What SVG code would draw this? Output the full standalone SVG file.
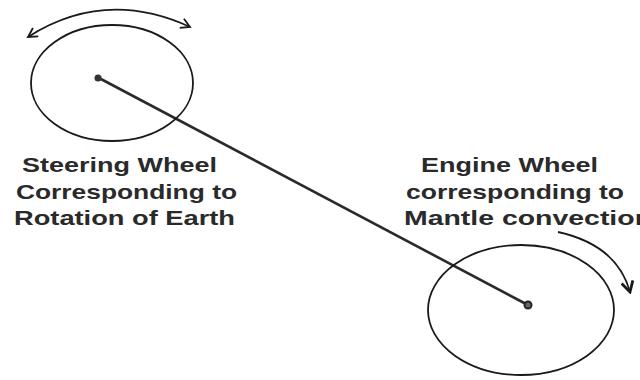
<svg xmlns="http://www.w3.org/2000/svg" width="640" height="380" viewBox="0 0 640 380">
<defs>
<style>
.wheel{fill:none;stroke:#1a1a1a;stroke-width:1.8}
.rod{stroke:#2a2a2a;stroke-width:2.6;fill:none}
.rot{fill:none;stroke:#1a1a1a;stroke-width:1.8}
.lbl{font-family:"Liberation Sans","DejaVu Sans",sans-serif;font-weight:bold;font-size:21px;fill:#2a2a2a}
</style>
<marker id="head" viewBox="0 0 12 12" refX="10" refY="6" markerWidth="12" markerHeight="12" markerUnits="userSpaceOnUse" orient="auto-start-reverse">
<path d="M1,1 L10,6 L1,11" fill="none" stroke="#1a1a1a" stroke-width="1.8"/>
</marker>
<marker id="headR" viewBox="0 0 12 12" refX="10" refY="6" markerWidth="14" markerHeight="14" markerUnits="userSpaceOnUse" orient="auto">
<path d="M1,1 L10,6 L1,11" fill="none" stroke="#1a1a1a" stroke-width="2.4"/>
</marker>
</defs>
<rect width="640" height="380" fill="#fff"/>
<g id="connectors">
<line class="rod" x1="99" y1="78" x2="528" y2="305"/>
</g>
<g id="steering-wheel">
<ellipse class="wheel" cx="112" cy="83" rx="81" ry="58"/>
<circle cx="98" cy="78" r="3.5" fill="#333"/>
<path class="rot" d="M28,37 Q105,-12 190,27" marker-start="url(#head)" marker-end="url(#head)"/>
<text class="lbl" x="22" y="172" textLength="195" lengthAdjust="spacingAndGlyphs">Steering Wheel</text>
<text class="lbl" x="16" y="199" textLength="221" lengthAdjust="spacingAndGlyphs">Corresponding to</text>
<text class="lbl" x="14" y="225" textLength="221" lengthAdjust="spacingAndGlyphs">Rotation of Earth</text>
</g>
<g id="engine-wheel">
<ellipse class="wheel" cx="521" cy="310" rx="93" ry="65"/>
<circle cx="528" cy="305" r="3.5" fill="#666" stroke="#222" stroke-width="2"/>
<path class="rot" d="M558,232 Q617,245 630,292" marker-end="url(#headR)"/>
<text class="lbl" x="421" y="172" textLength="177" lengthAdjust="spacingAndGlyphs">Engine Wheel</text>
<text class="lbl" x="406" y="199" textLength="218" lengthAdjust="spacingAndGlyphs">corresponding to</text>
<text class="lbl" x="404" y="225" textLength="248" lengthAdjust="spacingAndGlyphs">Mantle convection</text>
</g>
</svg>
